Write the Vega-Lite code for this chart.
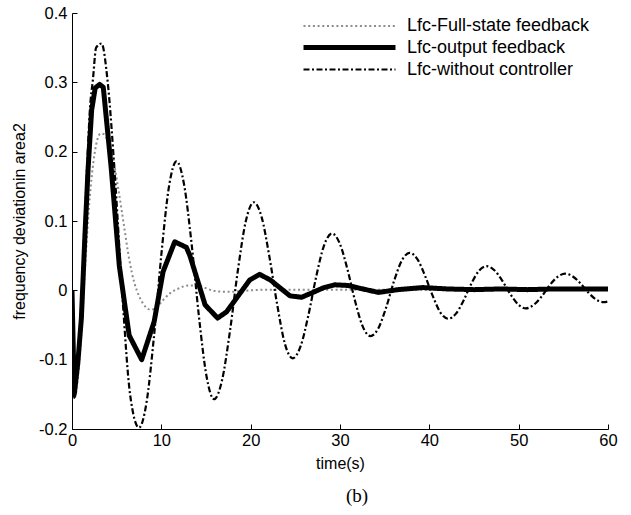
{
  "$schema": "https://vega.github.io/schema/vega-lite/v6.json",
  "width": 536,
  "height": 416,
  "autosize": {"type": "none"},
  "padding": {"left": 72, "top": 13, "right": 23, "bottom": 86},
  "background": "white",
  "config": {
    "view": {"stroke": null},
    "font": "Liberation Sans",
    "legend": {
      "orient": "none",
      "legendX": 229,
      "legendY": 2,
      "symbolType": "M-1,0H8.2",
      "symbolSize": 400,
      "labelFontSize": 18,
      "labelColor": "black",
      "labelOffset": 81,
      "labelLimit": 0,
      "rowPadding": 0,
      "padding": 0
    }
  },
  "title": {"text": "(b)", "orient": "bottom", "font": "Liberation Serif", "fontSize": 19, "fontWeight": "normal", "color": "black", "offset": 15, "dx": 17},
  "data": {"values": [
    {"t": 0, "v": 0, "s": "Lfc-Full-state feedback"},
    {"t": 0.3, "v": -0.155, "s": "Lfc-Full-state feedback"},
    {"t": 0.7, "v": -0.12, "s": "Lfc-Full-state feedback"},
    {"t": 1.1, "v": -0.05, "s": "Lfc-Full-state feedback"},
    {"t": 1.5, "v": 0.04, "s": "Lfc-Full-state feedback"},
    {"t": 1.9, "v": 0.12, "s": "Lfc-Full-state feedback"},
    {"t": 2.3, "v": 0.175, "s": "Lfc-Full-state feedback"},
    {"t": 2.7, "v": 0.21, "s": "Lfc-Full-state feedback"},
    {"t": 3.2, "v": 0.226, "s": "Lfc-Full-state feedback"},
    {"t": 3.6, "v": 0.225, "s": "Lfc-Full-state feedback"},
    {"t": 4.0, "v": 0.215, "s": "Lfc-Full-state feedback"},
    {"t": 4.6, "v": 0.19, "s": "Lfc-Full-state feedback"},
    {"t": 5.2, "v": 0.145, "s": "Lfc-Full-state feedback"},
    {"t": 5.8, "v": 0.095, "s": "Lfc-Full-state feedback"},
    {"t": 6.4, "v": 0.045, "s": "Lfc-Full-state feedback"},
    {"t": 7.0, "v": 0.01, "s": "Lfc-Full-state feedback"},
    {"t": 7.5, "v": -0.008, "s": "Lfc-Full-state feedback"},
    {"t": 8.0, "v": -0.02, "s": "Lfc-Full-state feedback"},
    {"t": 8.8, "v": -0.028, "s": "Lfc-Full-state feedback"},
    {"t": 9.5, "v": -0.024, "s": "Lfc-Full-state feedback"},
    {"t": 10.2, "v": -0.014, "s": "Lfc-Full-state feedback"},
    {"t": 11.0, "v": -0.004, "s": "Lfc-Full-state feedback"},
    {"t": 12.0, "v": 0.003, "s": "Lfc-Full-state feedback"},
    {"t": 13.0, "v": 0.007, "s": "Lfc-Full-state feedback"},
    {"t": 14.0, "v": 0.007, "s": "Lfc-Full-state feedback"},
    {"t": 15.0, "v": 0.003, "s": "Lfc-Full-state feedback"},
    {"t": 16.0, "v": -0.001, "s": "Lfc-Full-state feedback"},
    {"t": 17.0, "v": -0.002, "s": "Lfc-Full-state feedback"},
    {"t": 18.0, "v": -0.002, "s": "Lfc-Full-state feedback"},
    {"t": 19.0, "v": -0.001, "s": "Lfc-Full-state feedback"},
    {"t": 20.0, "v": 0.0, "s": "Lfc-Full-state feedback"},
    {"t": 22.0, "v": 0.001, "s": "Lfc-Full-state feedback"},
    {"t": 25.0, "v": 0.001, "s": "Lfc-Full-state feedback"},
    {"t": 30.0, "v": 0.001, "s": "Lfc-Full-state feedback"},
    {"t": 35.0, "v": 0.001, "s": "Lfc-Full-state feedback"},
    {"t": 40.0, "v": 0.001, "s": "Lfc-Full-state feedback"},
    {"t": 45.0, "v": 0.001, "s": "Lfc-Full-state feedback"},
    {"t": 50.0, "v": 0.001, "s": "Lfc-Full-state feedback"},
    {"t": 55.0, "v": 0.001, "s": "Lfc-Full-state feedback"},
    {"t": 60.0, "v": 0.001, "s": "Lfc-Full-state feedback"},

    {"t": 0, "v": 0, "s": "Lfc-output feedback"},
    {"t": 0.25, "v": -0.15, "s": "Lfc-output feedback"},
    {"t": 0.65, "v": -0.105, "s": "Lfc-output feedback"},
    {"t": 1.05, "v": -0.04, "s": "Lfc-output feedback"},
    {"t": 1.45, "v": 0.08, "s": "Lfc-output feedback"},
    {"t": 1.8, "v": 0.175, "s": "Lfc-output feedback"},
    {"t": 2.2, "v": 0.26, "s": "Lfc-output feedback"},
    {"t": 2.6, "v": 0.292, "s": "Lfc-output feedback"},
    {"t": 3.1, "v": 0.297, "s": "Lfc-output feedback"},
    {"t": 3.5, "v": 0.293, "s": "Lfc-output feedback"},
    {"t": 4.4, "v": 0.175, "s": "Lfc-output feedback"},
    {"t": 5.3, "v": 0.035, "s": "Lfc-output feedback"},
    {"t": 6.4, "v": -0.065, "s": "Lfc-output feedback"},
    {"t": 7.8, "v": -0.1, "s": "Lfc-output feedback"},
    {"t": 9.2, "v": -0.045, "s": "Lfc-output feedback"},
    {"t": 10.2, "v": 0.027, "s": "Lfc-output feedback"},
    {"t": 11.5, "v": 0.07, "s": "Lfc-output feedback"},
    {"t": 12.8, "v": 0.062, "s": "Lfc-output feedback"},
    {"t": 13.2, "v": 0.05, "s": "Lfc-output feedback"},
    {"t": 14.9, "v": -0.021, "s": "Lfc-output feedback"},
    {"t": 16.3, "v": -0.04, "s": "Lfc-output feedback"},
    {"t": 17.3, "v": -0.031, "s": "Lfc-output feedback"},
    {"t": 19.9, "v": 0.015, "s": "Lfc-output feedback"},
    {"t": 21.0, "v": 0.023, "s": "Lfc-output feedback"},
    {"t": 22.2, "v": 0.015, "s": "Lfc-output feedback"},
    {"t": 24.4, "v": -0.008, "s": "Lfc-output feedback"},
    {"t": 25.7, "v": -0.01, "s": "Lfc-output feedback"},
    {"t": 26.8, "v": -0.004, "s": "Lfc-output feedback"},
    {"t": 28.2, "v": 0.004, "s": "Lfc-output feedback"},
    {"t": 29.4, "v": 0.008, "s": "Lfc-output feedback"},
    {"t": 30.9, "v": 0.007, "s": "Lfc-output feedback"},
    {"t": 32.2, "v": 0.003, "s": "Lfc-output feedback"},
    {"t": 34.3, "v": -0.003, "s": "Lfc-output feedback"},
    {"t": 36.5, "v": 0.001, "s": "Lfc-output feedback"},
    {"t": 39.3, "v": 0.004, "s": "Lfc-output feedback"},
    {"t": 42.0, "v": 0.002, "s": "Lfc-output feedback"},
    {"t": 45.0, "v": 0.001, "s": "Lfc-output feedback"},
    {"t": 48.0, "v": 0.002, "s": "Lfc-output feedback"},
    {"t": 51.0, "v": 0.001, "s": "Lfc-output feedback"},
    {"t": 54.0, "v": 0.002, "s": "Lfc-output feedback"},
    {"t": 57.0, "v": 0.002, "s": "Lfc-output feedback"},
    {"t": 60.0, "v": 0.002, "s": "Lfc-output feedback"},

    {"t": 0, "v": 0, "s": "Lfc-without controller"},
    {"t": 0.25, "v": -0.155, "s": "Lfc-without controller"},
    {"t": 0.6, "v": -0.11, "s": "Lfc-without controller"},
    {"t": 1.0, "v": -0.03, "s": "Lfc-without controller"},
    {"t": 1.4, "v": 0.09, "s": "Lfc-without controller"},
    {"t": 1.7, "v": 0.18, "s": "Lfc-without controller"},
    {"t": 2.0, "v": 0.26, "s": "Lfc-without controller"},
    {"t": 2.35, "v": 0.305, "s": "Lfc-without controller"},
    {"t": 2.7, "v": 0.35, "s": "Lfc-without controller"},
    {"t": 3.3, "v": 0.356, "s": "Lfc-without controller"},
    {"t": 4.0, "v": 0.30, "s": "Lfc-without controller"},
    {"t": 4.8, "v": 0.165, "s": "Lfc-without controller"},
    {"t": 5.65, "v": -0.01, "s": "Lfc-without controller"},
    {"t": 6.5, "v": -0.15, "s": "Lfc-without controller"},
    {"t": 7.5, "v": -0.198, "s": "Lfc-without controller"},
    {"t": 8.34, "v": -0.162, "s": "Lfc-without controller"},
    {"t": 9.18, "v": -0.066, "s": "Lfc-without controller"},
    {"t": 10.02, "v": 0.054, "s": "Lfc-without controller"},
    {"t": 10.86, "v": 0.15, "s": "Lfc-without controller"},
    {"t": 11.7, "v": 0.186, "s": "Lfc-without controller"},
    {"t": 12.54, "v": 0.153, "s": "Lfc-without controller"},
    {"t": 13.38, "v": 0.068, "s": "Lfc-without controller"},
    {"t": 14.22, "v": -0.039, "s": "Lfc-without controller"},
    {"t": 15.06, "v": -0.124, "s": "Lfc-without controller"},
    {"t": 15.9, "v": -0.157, "s": "Lfc-without controller"},
    {"t": 16.79, "v": -0.13, "s": "Lfc-without controller"},
    {"t": 17.68, "v": -0.059, "s": "Lfc-without controller"},
    {"t": 18.57, "v": 0.029, "s": "Lfc-without controller"},
    {"t": 19.46, "v": 0.1, "s": "Lfc-without controller"},
    {"t": 20.35, "v": 0.127, "s": "Lfc-without controller"},
    {"t": 21.22, "v": 0.106, "s": "Lfc-without controller"},
    {"t": 22.09, "v": 0.049, "s": "Lfc-without controller"},
    {"t": 22.96, "v": -0.02, "s": "Lfc-without controller"},
    {"t": 23.83, "v": -0.077, "s": "Lfc-without controller"},
    {"t": 24.7, "v": -0.098, "s": "Lfc-without controller"},
    {"t": 25.58, "v": -0.081, "s": "Lfc-without controller"},
    {"t": 26.46, "v": -0.036, "s": "Lfc-without controller"},
    {"t": 27.34, "v": 0.02, "s": "Lfc-without controller"},
    {"t": 28.22, "v": 0.065, "s": "Lfc-without controller"},
    {"t": 29.1, "v": 0.082, "s": "Lfc-without controller"},
    {"t": 29.96, "v": 0.068, "s": "Lfc-without controller"},
    {"t": 30.82, "v": 0.031, "s": "Lfc-without controller"},
    {"t": 31.68, "v": -0.015, "s": "Lfc-without controller"},
    {"t": 32.54, "v": -0.052, "s": "Lfc-without controller"},
    {"t": 33.4, "v": -0.066, "s": "Lfc-without controller"},
    {"t": 34.28, "v": -0.055, "s": "Lfc-without controller"},
    {"t": 35.16, "v": -0.025, "s": "Lfc-without controller"},
    {"t": 36.04, "v": 0.013, "s": "Lfc-without controller"},
    {"t": 36.92, "v": 0.043, "s": "Lfc-without controller"},
    {"t": 37.8, "v": 0.054, "s": "Lfc-without controller"},
    {"t": 38.66, "v": 0.045, "s": "Lfc-without controller"},
    {"t": 39.52, "v": 0.021, "s": "Lfc-without controller"},
    {"t": 40.38, "v": -0.008, "s": "Lfc-without controller"},
    {"t": 41.24, "v": -0.032, "s": "Lfc-without controller"},
    {"t": 42.1, "v": -0.041, "s": "Lfc-without controller"},
    {"t": 42.96, "v": -0.034, "s": "Lfc-without controller"},
    {"t": 43.82, "v": -0.015, "s": "Lfc-without controller"},
    {"t": 44.68, "v": 0.009, "s": "Lfc-without controller"},
    {"t": 45.54, "v": 0.028, "s": "Lfc-without controller"},
    {"t": 46.4, "v": 0.035, "s": "Lfc-without controller"},
    {"t": 47.28, "v": 0.029, "s": "Lfc-without controller"},
    {"t": 48.16, "v": 0.014, "s": "Lfc-without controller"},
    {"t": 49.04, "v": -0.005, "s": "Lfc-without controller"},
    {"t": 49.92, "v": -0.02, "s": "Lfc-without controller"},
    {"t": 50.8, "v": -0.026, "s": "Lfc-without controller"},
    {"t": 51.68, "v": -0.021, "s": "Lfc-without controller"},
    {"t": 52.56, "v": -0.009, "s": "Lfc-without controller"},
    {"t": 53.44, "v": 0.007, "s": "Lfc-without controller"},
    {"t": 54.32, "v": 0.019, "s": "Lfc-without controller"},
    {"t": 55.2, "v": 0.024, "s": "Lfc-without controller"},
    {"t": 56.06, "v": 0.02, "s": "Lfc-without controller"},
    {"t": 56.92, "v": 0.01, "s": "Lfc-without controller"},
    {"t": 57.78, "v": -0.003, "s": "Lfc-without controller"},
    {"t": 58.64, "v": -0.013, "s": "Lfc-without controller"},
    {"t": 59.5, "v": -0.017, "s": "Lfc-without controller"},
    {"t": 60, "v": -0.016, "s": "Lfc-without controller"}
  ]},
  "encoding": {
    "x": {
      "field": "t", "type": "quantitative",
      "scale": {"domain": [0, 60], "nice": false, "zero": false},
      "axis": {
        "values": [0, 10, 20, 30, 40, 50, 60],
        "title": "time(s)", "grid": false,
        "tickSize": -5, "tickColor": "black", "domainColor": "black",
        "labelFontSize": 16.5, "labelColor": "black", "labelPadding": 8,
        "labelFlush": false, "labelOverlap": false,
        "titleFontSize": 16, "titleFontWeight": "normal", "titleColor": "black", "titlePadding": 7
      }
    },
    "y": {
      "field": "v", "type": "quantitative",
      "scale": {"domain": [-0.2, 0.4], "nice": false, "zero": false},
      "axis": {
        "values": [-0.2, -0.1, 0, 0.1, 0.2, 0.3, 0.4],
        "labelExpr": "'' + datum.value",
        "title": "frequency deviationin area2", "grid": false,
        "tickSize": -5, "tickColor": "black", "domainColor": "black",
        "labelFontSize": 16.5, "labelColor": "black", "labelPadding": 10,
        "labelFlush": false, "labelOverlap": false,
        "titleFontSize": 16, "titleFontWeight": "normal", "titleColor": "black", "titlePadding": 11
      }
    },
    "color": {
      "field": "s", "type": "nominal",
      "scale": {"domain": ["Lfc-Full-state feedback", "Lfc-output feedback", "Lfc-without controller"], "range": ["#8c8c8c", "#000000", "#000000"]},
      "legend": {"title": null}
    },
    "strokeDash": {
      "field": "s", "type": "nominal",
      "scale": {"domain": ["Lfc-Full-state feedback", "Lfc-output feedback", "Lfc-without controller"], "range": [[2, 2.7], [1, 0], [6, 2.5, 2, 2.5]]},
      "legend": {"title": null}
    },
    "strokeWidth": {
      "field": "s", "type": "nominal",
      "scale": {"type": "ordinal", "domain": ["Lfc-Full-state feedback", "Lfc-output feedback", "Lfc-without controller"], "range": [2, 5, 2.2]},
      "legend": {"title": null}
    }
  },
  "layer": [
    {
      "transform": [{"filter": "datum.s == 'Lfc-Full-state feedback'"}],
      "mark": {"type": "line", "interpolate": "monotone", "clip": true, "strokeJoin": "round"}
    },
    {
      "transform": [{"filter": "datum.s == 'Lfc-output feedback'"}],
      "mark": {"type": "line", "interpolate": "linear", "clip": true, "strokeJoin": "round"}
    },
    {
      "transform": [{"filter": "datum.s == 'Lfc-without controller'"}],
      "mark": {"type": "line", "interpolate": "monotone", "clip": true, "strokeJoin": "round"}
    }
  ]
}
